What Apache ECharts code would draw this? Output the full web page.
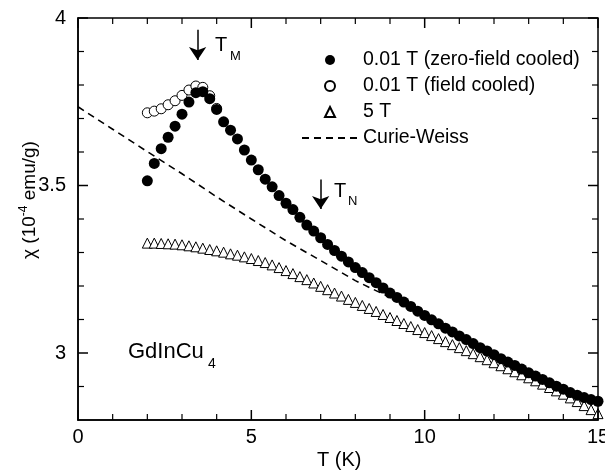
<!DOCTYPE html>
<html>
<head>
<meta charset="utf-8">
<script src="https://cdn.jsdelivr.net/npm/echarts@6/dist/echarts.min.js"></script>
<style>
  html, body { margin: 0; background: #fff; overflow: hidden; }
  #chart { width: 605px; height: 473px; }
</style>
</head>
<body>
<div id="chart"></div>
<script>
// temperatures (K) shared by the 0.01 T zfc and 5 T runs
const temps = [
  2.0, 2.2, 2.4, 2.6, 2.8, 3.0, 3.2, 3.4, 3.6, 3.8,
  4.0, 4.2, 4.4, 4.6, 4.8, 5.0, 5.2, 5.4, 5.6, 5.8,
  6.0, 6.2, 6.4, 6.6, 6.8, 7.0, 7.2, 7.4, 7.6, 7.8,
  8.0, 8.2, 8.4, 8.6, 8.8, 9.0, 9.2, 9.4, 9.6, 9.8,
  10.0, 10.2, 10.4, 10.6, 10.8, 11.0, 11.2, 11.4, 11.6, 11.8,
  12.0, 12.2, 12.4, 12.6, 12.8, 13.0, 13.2, 13.4, 13.6, 13.8,
  14.0, 14.2, 14.4, 14.6, 14.8, 15.0
];
// chi in 10^-4 emu/g
const chiZfc = [
  3.514, 3.566, 3.610, 3.644, 3.677, 3.713, 3.749, 3.777, 3.780, 3.759,
  3.727, 3.690, 3.665, 3.639, 3.606, 3.576, 3.547, 3.519, 3.496, 3.470,
  3.447, 3.428, 3.405, 3.382, 3.364, 3.344, 3.324, 3.306, 3.289, 3.272,
  3.255, 3.240, 3.225, 3.210, 3.194, 3.179, 3.166, 3.152, 3.139, 3.125,
  3.112, 3.099, 3.087, 3.074, 3.063, 3.051, 3.040, 3.028, 3.016, 3.006,
  2.995, 2.983, 2.973, 2.963, 2.952, 2.941, 2.931, 2.921, 2.911, 2.901,
  2.892, 2.882, 2.874, 2.867, 2.861, 2.856
];
const chiFc = [3.717, 3.722, 3.729, 3.741, 3.753, 3.769, 3.785, 3.797, 3.793, 3.768, 3.730];
const chi5T = [
  3.328, 3.328, 3.327, 3.326, 3.325, 3.323, 3.320, 3.317, 3.313, 3.309,
  3.305, 3.301, 3.296, 3.292, 3.287, 3.282, 3.276, 3.270, 3.263, 3.255,
  3.246, 3.237, 3.228, 3.219, 3.209, 3.199, 3.189, 3.179, 3.170, 3.160,
  3.151, 3.142, 3.133, 3.124, 3.115, 3.106, 3.097, 3.088, 3.079, 3.070,
  3.061, 3.052, 3.043, 3.034, 3.025, 3.016, 3.007, 2.998, 2.989, 2.980,
  2.971, 2.962, 2.953, 2.944, 2.935, 2.926, 2.917, 2.907, 2.897, 2.887,
  2.877, 2.866, 2.855, 2.843, 2.831, 2.819
];
const cwTemps = [0, 1, 2, 3, 4, 5, 6, 7, 8, 9, 9.5];
const cwChi = [3.735, 3.668, 3.601, 3.535, 3.466, 3.400, 3.335, 3.276, 3.216, 3.166, 3.143];

const seriesNames = ['0.01 T (zero-field cooled)', '0.01 T (field cooled)', '5 T', 'Curie-Weiss'];
const xMajorTicks = [0, 5, 10, 15];
const xMinorTicks = [1, 2, 3, 4, 6, 7, 8, 9, 11, 12, 13, 14];
const yMajorTicks = [3, 3.5, 4];
const yMinorTicks = [2.9, 3.1, 3.2, 3.3, 3.4, 3.6, 3.7, 3.8, 3.9];
const xRange = [0, 15];
const yRange = [2.8, 4];
// arrows: [T, chi start, chi end]
const arrowTM = [3.45, 3.965, 3.875];
const arrowTN = [7.0, 3.518, 3.43];

const FONT = 'Liberation Sans, Arial, Helvetica, sans-serif';
const pairs = (xs, ys) => ys.map((y, i) => [xs[i], y]);

const chart = echarts.init(document.getElementById('chart'));

const frame = () => ({show: true, onZero: false, lineStyle: {color: '#000', width: 1.5}});

chart.setOption({
  animation: false,
  backgroundColor: '#fff',
  textStyle: {fontFamily: FONT},
  grid: {left: 78, right: 7, top: 18, bottom: 53, outerBoundsMode: 'none', containLabel: false},
  legend: {
    orient: 'vertical', left: 301, top: 50, padding: 0,
    itemWidth: 56, itemHeight: 10, itemGap: 6,
    textStyle: {fontSize: 19.5, color: '#000', fontFamily: FONT},
    selectedMode: false,
    data: [
      {name: seriesNames[0]},
      {name: seriesNames[1]},
      {name: seriesNames[2], icon: 'path://M5,0L10,10L0,10Z'},
      {name: seriesNames[3], itemStyle: {opacity: 0}}
    ]
  },
  xAxis: {
    type: 'value', min: xRange[0], max: xRange[1], interval: 5,
    axisLine: frame(), axisTick: {show: false}, splitLine: {show: false},
    axisLabel: {show: true, fontSize: 20, color: '#000', margin: 7, fontFamily: FONT}
  },
  yAxis: {
    type: 'value', min: yRange[0], max: yRange[1],
    axisLine: frame(), axisTick: {show: false}, splitLine: {show: false},
    axisLabel: {show: true, customValues: yMajorTicks, fontSize: 20, color: '#000', margin: 12, fontFamily: FONT}
  },
  series: [
    {
      name: seriesNames[3], type: 'line', data: pairs(cwTemps, cwChi),
      symbol: 'none', showSymbol: false,
      lineStyle: {color: '#000', width: 1.6, type: [7, 5]},
      itemStyle: {color: '#000'},
      markLine: {
        silent: true, symbol: ['none', 'arrow'], symbolSize: 13,
        label: {show: false},
        lineStyle: {color: '#000', width: 1.5, type: 'solid'},
        data: [
          [{coord: [arrowTM[0], arrowTM[1]]}, {coord: [arrowTM[0], arrowTM[2]]}],
          [{coord: [arrowTN[0], arrowTN[1]]}, {coord: [arrowTN[0], arrowTN[2]]}]
        ]
      }
    },
    {
      name: seriesNames[2], type: 'scatter', data: pairs(temps, chi5T),
      symbol: 'triangle', symbolSize: 10,
      itemStyle: {color: '#fff', borderColor: '#000', borderWidth: 1, opacity: 1}
    },
    {
      name: seriesNames[1], type: 'scatter', data: pairs(temps, chiFc),
      symbol: 'circle', symbolSize: 10,
      itemStyle: {color: '#fff', borderColor: '#000', borderWidth: 1, opacity: 1}
    },
    {
      name: seriesNames[0], type: 'scatter', data: pairs(temps, chiZfc),
      symbol: 'circle', symbolSize: 11,
      itemStyle: {color: '#000', opacity: 1}
    }
  ]
});

// frame and inward ticks on all four sides, placed through the axis scales
const toPx = p => chart.convertToPixel({xAxisIndex: 0, yAxisIndex: 0}, p);
const topLeft = toPx([xRange[0], yRange[1]]);
const botRight = toPx([xRange[1], yRange[0]]);
const [L, T] = topLeft;
const [R, B] = botRight;
const seg = (x1, y1, x2, y2, w) => ({
  type: 'line', silent: true, z: 10,
  shape: {x1, y1, x2, y2}, style: {stroke: '#000', lineWidth: w}
});
const tickEls = [];
const addX = (vals, len, w) => vals.forEach(v => {
  const px = toPx([v, yRange[0]])[0];
  tickEls.push(seg(px, B, px, B - len, w), seg(px, T, px, T + len, w));
});
const addY = (vals, len, w) => vals.forEach(v => {
  const py = toPx([xRange[0], v])[1];
  tickEls.push(seg(L, py, L + len, py, w), seg(R, py, R - len, py, w));
});
addX(xMajorTicks, 10, 1.5);
addX(xMinorTicks, 6, 1.2);
addY(yMajorTicks, 10, 1.5);
addY(yMinorTicks, 6, 1.2);

const textEl = (left, top, text, size) => ({
  type: 'text', left, top, style: {text, fontSize: size, fill: '#000', fontFamily: FONT}
});

chart.setOption({
  graphic: [
    {
      type: 'rect', silent: true, z: 10,
      shape: {x: L, y: T, width: R - L, height: B - T},
      style: {fill: 'none', stroke: '#000', lineWidth: 1.5}
    },
    ...tickEls,
    textEl(215, 35, 'T', 20),
    textEl(230, 50, 'M', 13),
    textEl(334, 181, 'T', 20),
    textEl(348, 195, 'N', 13),
    textEl(128, 341, 'GdInCu', 22),
    textEl(208, 357, '4', 14),
    textEl(317, 450, 'T (K)', 20),
    {
      type: 'text', x: 30, y: 200, rotation: Math.PI / 2,
      style: {
        text: '{a|χ (10}{b|-4}{a| emu/g)}',
        align: 'center', verticalAlign: 'middle', fill: '#000', fontFamily: FONT,
        rich: {
          a: {fontSize: 19, lineHeight: 24, fontFamily: FONT},
          b: {fontSize: 12, lineHeight: 24, verticalAlign: 'top', fontFamily: FONT}
        }
      }
    }
  ]
});
</script>
</body>
</html>
